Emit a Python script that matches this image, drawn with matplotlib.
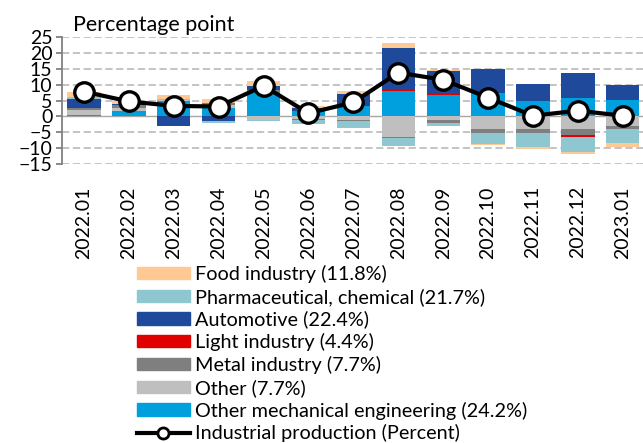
import numpy as np
import matplotlib
matplotlib.use("Agg")
import matplotlib.pyplot as plt
from matplotlib.lines import Line2D
from matplotlib.patches import Patch

plt.rcParams["font.family"] = ["Lato", "DejaVu Sans"]

months = ["2022.01", "2022.02", "2022.03", "2022.04", "2022.05", "2022.06", "2022.07",
          "2022.08", "2022.09", "2022.10", "2022.11", "2022.12", "2023.01"]

# contributions, percentage points
other_mech = [0.5, 1.8, 4.9, 2.6, 7.8, 1.8, 3.2, 7.9, 6.8, 7.4, 4.8, 5.8, 5.1]
other = [1.4, 0.9, 0.2, 1.0, -1.1, -0.8, -1.0, -6.4, -1.0, -4.1, -4.1, -4.1, -3.0]
metal = [0.8, 0.9, 0.1, 0.7, 0.4, -0.4, -0.6, -0.4, -1.0, -1.1, -1.1, -1.9, -1.0]
light = [0.4, 0.1, 0.0, 0.0, 0.0, 0.0, 0.0, 0.4, 0.4, 0.0, 0.0, -0.5, 0.0]
automotive = [2.3, 0.2, -3.0, -1.5, 1.3, 0.7, 4.0, 13.1, 7.0, 7.4, 5.3, 7.9, 4.7]
pharma = [0.6, 0.0, 0.3, -0.5, -0.5, -1.2, -2.1, -2.5, -1.0, -3.4, -4.6, -4.7, -4.5]
food = [1.8, 0.8, 1.1, 1.1, 1.7, 0.8, 0.7, 1.6, 0.3, -0.3, -0.4, -0.5, -1.3]

production = [7.8, 4.7, 3.3, 3.1, 9.6, 1.0, 4.4, 13.8, 11.5, 5.9, 0.2, 1.8, 0.2]

# stacked from zero outwards in this order
series = [
    ("Other mechanical engineering (24.2%)", other_mech, "#00A0DF"),
    ("Other (7.7%)", other, "#BFBFBF"),
    ("Metal industry (7.7%)", metal, "#7F7F7F"),
    ("Light industry (4.4%)", light, "#E00000"),
    ("Automotive (22.4%)", automotive, "#1F4A9C"),
    ("Pharmaceutical, chemical (21.7%)", pharma, "#8FC7D1"),
    ("Food industry (11.8%)", food, "#FFC993"),
]

fig = plt.figure(figsize=(6.43, 4.43), dpi=100)
ax = fig.add_axes([62 / 643, 1 - 164 / 443, 581 / 643, 127 / 443])

x = np.arange(len(months))
pos_base = np.zeros(len(months))
neg_base = np.zeros(len(months))
for name, vals, color in series:
    v = np.array(vals)
    bottoms = np.where(v >= 0, pos_base, neg_base)
    ax.bar(x, v, 0.74, bottom=bottoms, color=color, zorder=2)
    pos_base += np.where(v >= 0, v, 0)
    neg_base += np.where(v < 0, v, 0)

ax.plot(x, production, color="black", lw=3, marker="o", ms=14,
        mfc="white", mec="black", mew=2.4, zorder=4)

ax.set_ylim(-15, 25)
ax.set_xlim(-0.49, 12.45)
ax.set_yticks(range(-15, 26, 5))
for yv in range(-15, 26, 5):
    if yv != 0:
        ax.axhline(yv, color="#BFBFBF", lw=1.3, ls=(0, (4, 2)), zorder=0)
ax.axhline(0, color="#A6A6A6", lw=1, zorder=1)

for s in ["top", "right", "bottom"]:
    ax.spines[s].set_visible(False)
ax.spines["left"].set_color("#808080")
ax.spines["left"].set_linewidth(1.3)
ax.tick_params(axis="y", length=4, color="#808080", width=1.3, labelsize=14, pad=3)
ax.tick_params(axis="x", length=0, labelsize=14, pad=16)
ax.set_xticks(x)
ax.set_xticklabels(months, rotation=90)

fig.text(73 / 643, 1 - 31 / 443, "Percentage point", fontsize=15.5, ha="left", va="baseline")

handles = [Patch(color=c) for _, _, c in series[::-1]]
labels = [n for n, _, _ in series[::-1]]
handles.append(Line2D([], [], color="black", lw=3, marker="o", ms=8,
                      mfc="white", mec="black", mew=2))
labels.append("Industrial production (Percent)")
fig.legend(handles, labels, loc="upper left", bbox_to_anchor=(137 / 643, 1 - 265 / 443),
           frameon=False, fontsize=14.3, handlelength=2.65, handleheight=0.58,
           handletextpad=0.25, labelspacing=0.24, borderpad=0, borderaxespad=0)

fig.savefig("out.png", dpi=100)
